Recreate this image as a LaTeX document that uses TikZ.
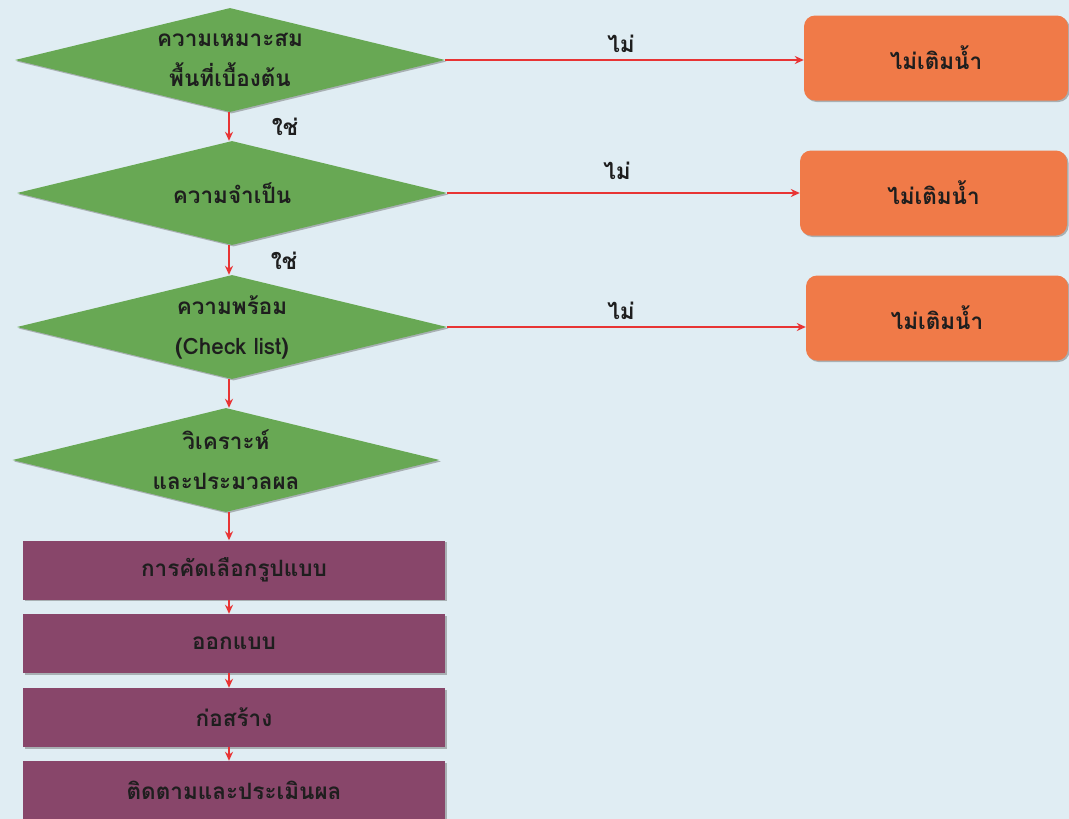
\documentclass[tikz,border=0pt]{standalone}
\usepackage{fontspec}
\setmainfont[Script=Thai]{Loma}
\usetikzlibrary{shapes.geometric,shadows,arrows.meta}
\definecolor{bgc}{RGB}{224,237,243}
\definecolor{greenc}{RGB}{104,168,84}
\definecolor{purplec}{RGB}{136,70,106}
\definecolor{orangec}{RGB}{240,122,72}
\definecolor{redc}{RGB}{232,52,52}
\definecolor{txtc}{RGB}{30,30,30}
\tikzset{
  shade/.style={drop shadow={shadow xshift=1.5pt,shadow yshift=-1.5pt,fill=black!60,opacity=0.45}},
  decision/.style={shape=diamond,fill=greenc,shade,aspect=4.13,inner sep=0pt,
    minimum width=430pt,minimum height=104pt,align=center,text=txtc,
    font=\fontsize{22.5}{40}\selectfont\bfseries},
  process/.style={rectangle,fill=purplec,shade,minimum width=422pt,minimum height=59pt,
    inner sep=0pt,text=txtc,font=\fontsize{22.5}{26}\selectfont\bfseries},
  stopbox/.style={rectangle,rounded corners=11pt,fill=orangec,shade,minimum width=264pt,
    minimum height=85pt,inner sep=0pt,text=txtc,font=\fontsize{22.5}{26}\selectfont\bfseries},
  conn/.style={draw=redc,line width=2.2pt,-{Stealth[length=9pt,width=8pt]}},
  lbl/.style={text=txtc,font=\fontsize{22.5}{26}\selectfont\bfseries,inner sep=0pt}
}
\begin{document}
\begin{tikzpicture}[x=1pt,y=-1pt]
\useasboundingbox (0,0) rectangle (1069,819);
\fill[bgc] (0,0) rectangle (1069,819);
% decisions
\node[decision] (d1) at (230,60) {ความเหมาะสม\\พื้นที่เบื้องต้น};
\node[decision] (d2) at (232,193) {ความจำเป็น};
\node[decision] (d3) at (232,327) {ความพร้อม\\(Check list)};
\node[decision,minimum width=427pt] (d4) at (226,460) {วิเคราะห์\\และประมวลผล};
% processes
\node[process] (p1) at (234,570) {การคัดเลือกรูปแบบ};
\node[process] (p2) at (234,643.5) {ออกแบบ};
\node[process] (p3) at (234,717.5) {ก่อสร้าง};
\node[process,minimum height=58pt] (p4) at (234,790) {ติดตามและประเมินผล};
% stop boxes
\node[stopbox] (s1) at (936,58) {ไม่เติมน้ำ};
\node[stopbox,minimum width=267pt] (s2) at (933.5,193) {ไม่เติมน้ำ};
\node[stopbox,minimum width=262pt] (s3) at (937,318) {ไม่เติมน้ำ};
% connector column
\coordinate (col) at (229,0);
% connectors
\draw[conn] (d1.south -| col) -- (d2.north -| col);
\draw[conn] (d2.south -| col) -- (d3.north -| col);
\draw[conn] (d3.south -| col) -- (d4.north -| col);
\draw[conn] (d4.south -| col) -- (p1.north -| col);
\draw[conn] (p1.south -| col) -- (p2.north -| col);
\draw[conn] (p2.south -| col) -- (p3.north -| col);
\draw[conn] (p3.south -| col) -- (p4.north -| col);
\draw[conn] (d1.east) -- (s1.west |- d1.east);
\draw[conn] (d2.east) -- (s2.west |- d2.east);
\draw[conn] (d3.east) -- (s3.west |- d3.east);
% labels
\node[lbl] (y1) at (285,127) {ใช่};
\node[lbl] (y2) at (284,261) {ใช่};
\node[lbl] (n1) at (621,44) {ไม่};
\node[lbl] (n2) at (617,171) {ไม่};
\node[lbl] (n3) at (621,311) {ไม่};
\end{tikzpicture}
\end{document}
